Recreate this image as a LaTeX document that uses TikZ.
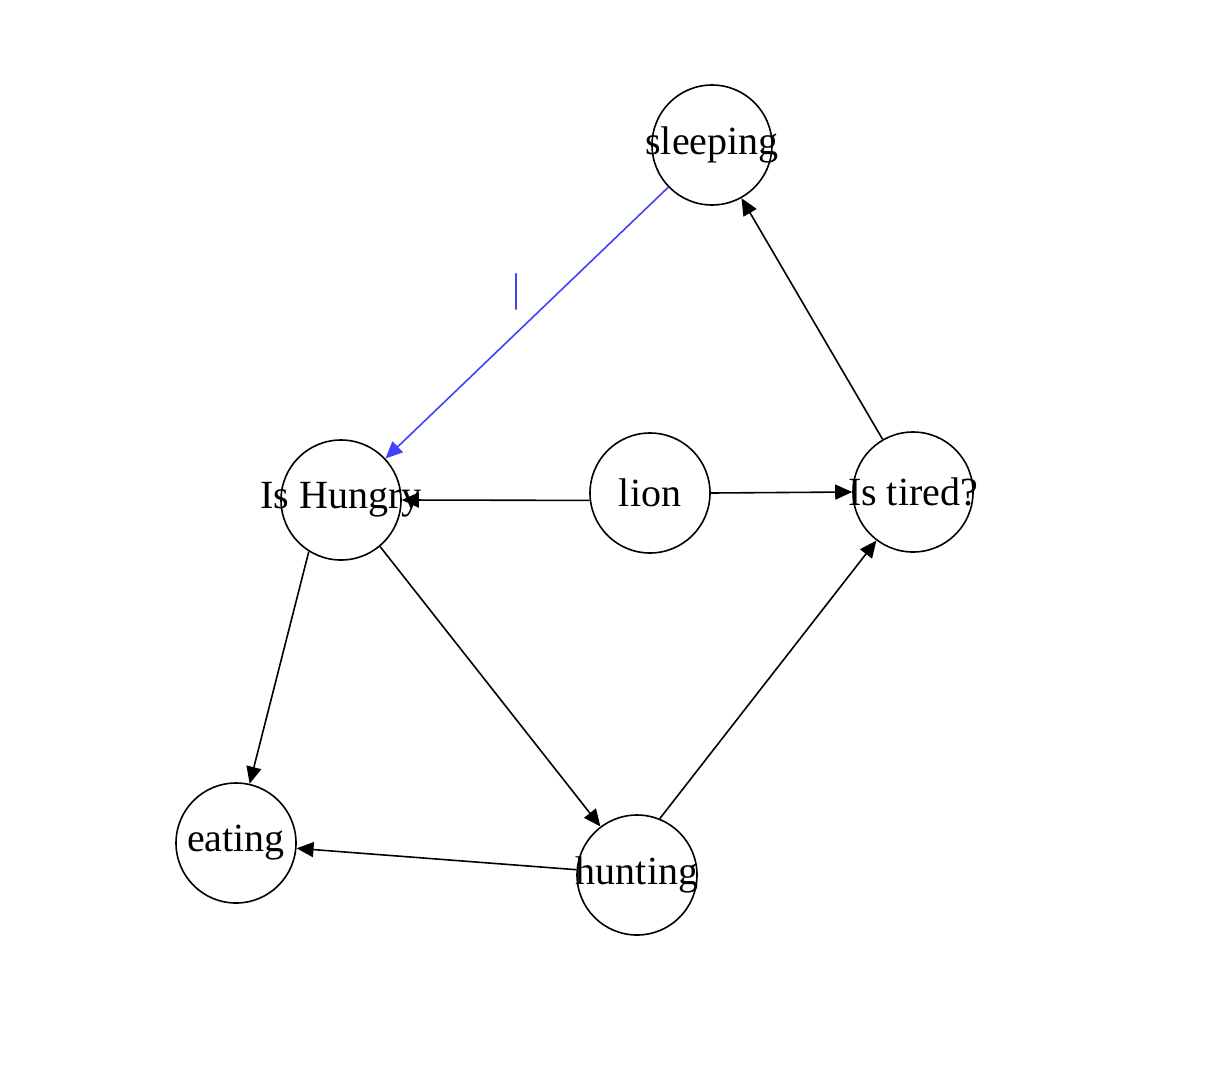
\documentclass[tikz,border=0pt]{standalone}
\usepackage{fontspec}
\setmainfont{Liberation Serif}
\usetikzlibrary{arrows.meta}
\newcommand{\lbltext}[1]{\makebox[0pt]{\raisebox{-3pt}{#1}}}
\begin{document}
\begin{tikzpicture}[x=1pt,y=-1pt,
  state/.style={draw=black,circle,line width=1.6pt,minimum size=120pt,inner sep=0pt,font=\fontsize{40}{42}\selectfont},
  edge/.style={draw=black,line width=1.6pt,-{Triangle[length=17pt,width=15pt]}},
  blueedge/.style={line width=1.6pt,-{Triangle[length=17pt,width=15pt]},color=blue!75}]
\useasboundingbox (0,0) rectangle (1230,1076);
\node[state] (sleeping) at (712,145) {\lbltext{sleeping}};
\node[state] (hungry) at (341,500) {\lbltext{Is Hungry}};
\node[state] (lion) at (650,493) {\lbltext{lion}};
\node[state] (tired) at (913,492) {\lbltext{Is tired?}};
\node[state] (eating) at (236,843) {\lbltext{eating}};
\node[state] (hunting) at (637,875) {\lbltext{hunting}};
\draw[edge] (lion.187) -- (hungry.east);
\draw[edge] (lion.east) -- (tired.west);
\draw[edge] (tired.120) -- (sleeping.299);
\draw[blueedge] (sleeping.224) -- (hungry.43);
\node[text=blue!75,font=\fontsize{40}{42}\selectfont,inner sep=0pt] (lbl) at (516,292) {|};
\draw[edge] (hungry.238) -- (eating.77);
\draw[edge] (hungry.310) -- (hunting.127);
\draw[edge] (hunting.68) -- (tired.233);
\draw[edge] (hunting.175) -- (eating.355);
\end{tikzpicture}
\end{document}
